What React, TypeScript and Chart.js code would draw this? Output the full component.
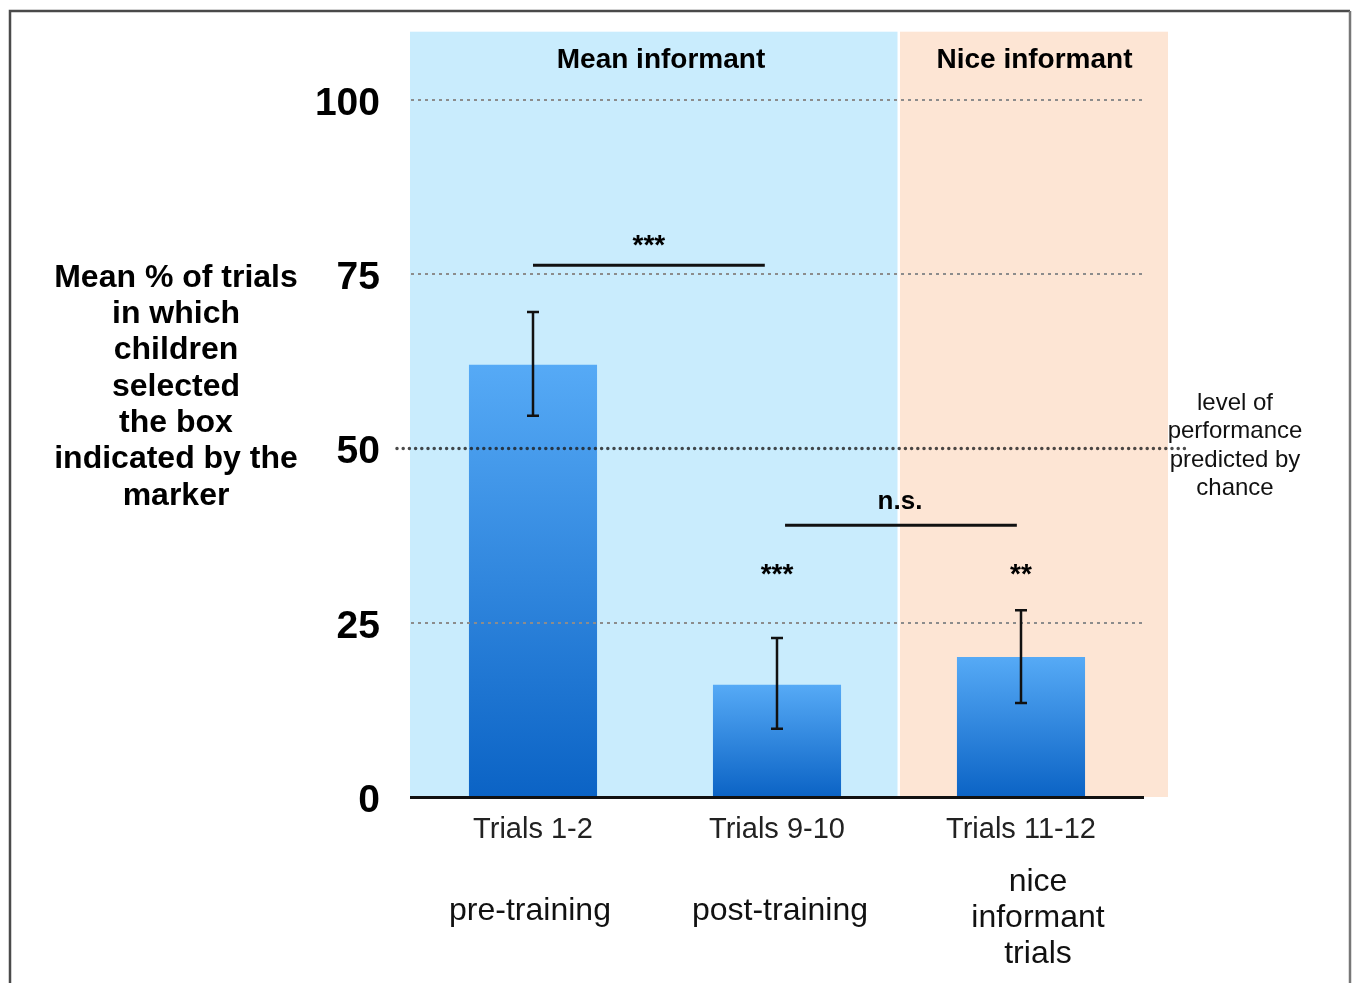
import React, { useEffect, useRef } from "react";
import { Chart, registerables } from "chart.js";

Chart.register(...registerables);

const categories = ["Trials 1-2", "Trials 9-10", "Trials 11-12"];
const phaseLabels = [["pre-training"], ["post-training"], ["nice", "informant", "trials"]];
const meanValues = [62, 16.1, 20.1];
const errHigh = [69.6, 22.8, 26.8];
const errLow = [54.7, 9.8, 13.5];
const yTicks = [0, 25, 50, 75, 100];
const panelLabels = ["Mean informant", "Nice informant"];
const yTitleLines = ["Mean % of trials", "in which", "children", "selected", "the box", "indicated by the", "marker"];
const chanceLines = ["level of", "performance", "predicted by", "chance"];
const chanceLevel = 50;
const sigLabels = ["***", "n.s.", "***", "**"];

const FONT = '"Liberation Sans", Arial, Helvetica, sans-serif';

const decorPlugin = {
  id: "decor",
  beforeDraw(chart: any) {
    const { ctx, chartArea, scales } = chart;
    const x = scales.x;
    const y = scales.y;
    const top = y.getPixelForValue(109.8);
    const bottom = chartArea.bottom;
    const split = (x.getPixelForValue(1) + x.getPixelForValue(2)) / 2;
    ctx.save();
    ctx.fillStyle = "#ffffff";
    ctx.fillRect(0, 0, chart.width, chart.height);
    ctx.fillStyle = "#c9ecfd";
    ctx.fillRect(chartArea.left - 1, top, split - 0.5 - chartArea.left, bottom - top);
    ctx.fillStyle = "#fde5d4";
    ctx.fillRect(split + 1, top, chartArea.right + 25 - split - 1, bottom - top);

    // panel labels
    ctx.fillStyle = "#000";
    ctx.font = "bold 28px " + FONT;
    ctx.textAlign = "center";
    ctx.textBaseline = "middle";
    ctx.fillText(panelLabels[0], (chartArea.left + split) / 2 + 6, top + 29);
    ctx.fillText(panelLabels[1], (split + chartArea.right + 25) / 2 + 1, top + 29);

    // y title
    ctx.font = "bold 32px " + FONT;
    yTitleLines.forEach((t, i) => ctx.fillText(t, 176, 278 + i * 36.3));

    // frame
    ctx.strokeStyle = "#4a4a4a";
    ctx.lineWidth = 2.5;
    ctx.beginPath();
    ctx.moveTo(10, chart.height);
    ctx.lineTo(10, 11);
    ctx.lineTo(1350, 11);
    ctx.stroke();
    ctx.strokeStyle = "#777";
    ctx.beginPath();
    ctx.moveTo(1350, 11);
    ctx.lineTo(1350, chart.height);
    ctx.stroke();
    ctx.restore();
  },
  afterDraw(chart: any) {
    const { ctx, chartArea, scales } = chart;
    const x = scales.x;
    const y = scales.y;
    ctx.save();
    // error bars
    ctx.strokeStyle = "#111";
    ctx.lineWidth = 2.5;
    meanValues.forEach((_, i) => {
      const cx = x.getPixelForValue(i);
      const yh = y.getPixelForValue(errHigh[i]);
      const yl = y.getPixelForValue(errLow[i]);
      ctx.beginPath();
      ctx.moveTo(cx, yh);
      ctx.lineTo(cx, yl);
      ctx.moveTo(cx - 6, yh);
      ctx.lineTo(cx + 6, yh);
      ctx.moveTo(cx - 6, yl);
      ctx.lineTo(cx + 6, yl);
      ctx.stroke();
    });

    // chance line
    const y50 = y.getPixelForValue(chanceLevel);
    ctx.strokeStyle = "rgba(30,30,30,0.8)";
    ctx.lineWidth = 3.5;
    ctx.lineCap = "round";
    ctx.setLineDash([0, 6.2]);
    ctx.beginPath();
    ctx.moveTo(chartArea.left - 14, y50);
    ctx.lineTo(chartArea.right + 47, y50);
    ctx.stroke();
    ctx.setLineDash([]);
    ctx.lineCap = "butt";

    // significance lines
    const step = x.getPixelForValue(1) - x.getPixelForValue(0);
    ctx.strokeStyle = "#111";
    ctx.lineWidth = 3;
    const l1y = y.getPixelForValue(76.3);
    ctx.beginPath();
    ctx.moveTo(x.getPixelForValue(0), l1y);
    ctx.lineTo(x.getPixelForValue(1) - 0.05 * step, l1y);
    ctx.stroke();
    const l2y = y.getPixelForValue(39.0);
    ctx.beginPath();
    ctx.moveTo(x.getPixelForValue(1) + 0.033 * step, l2y);
    ctx.lineTo(x.getPixelForValue(2) - 0.017 * step, l2y);
    ctx.stroke();

    ctx.fillStyle = "#000";
    ctx.textAlign = "center";
    ctx.textBaseline = "middle";
    ctx.font = "bold 28px " + FONT;
    ctx.fillText(sigLabels[0], (x.getPixelForValue(0) + x.getPixelForValue(1) - 0.05 * step) / 2, y.getPixelForValue(79.0));
    ctx.fillText(sigLabels[2], x.getPixelForValue(1), y.getPixelForValue(31.8));
    ctx.fillText(sigLabels[3], x.getPixelForValue(2), y.getPixelForValue(31.8));
    ctx.font = "bold 26px " + FONT;
    ctx.fillText(sigLabels[1], (x.getPixelForValue(1) + x.getPixelForValue(2)) / 2 + 1, y.getPixelForValue(42.3));

    // phase labels
    ctx.font = "32px " + FONT;
    ctx.fillStyle = "#111";
    const offs = [-3, 3, 17];
    const centers = [911, 911, 918];
    phaseLabels.forEach((lines, i) => {
      const cx = x.getPixelForValue(i) + offs[i];
      const n = lines.length;
      lines.forEach((t, j) => {
        ctx.fillText(t, cx, centers[i] + (j - (n - 1) / 2) * 36);
      });
    });

    // chance label
    ctx.font = "24px " + FONT;
    chanceLines.forEach((t, j) => ctx.fillText(t, 1235, 403 + j * 28.5));
    ctx.restore();
  },
};

export default function App() {
  const ref = useRef<HTMLCanvasElement>(null);
  useEffect(() => {
    if (!ref.current) return;
    const chart = new Chart(ref.current, {
      type: "bar",
      data: {
        labels: categories,
        datasets: [
          {
            data: meanValues,
            backgroundColor: (c: any) => {
              const ch = c.chart;
              const ys = ch.scales?.y;
              if (!ys || c.raw === undefined) return "#3a8ee6";
              const t = ys.getPixelForValue(c.raw);
              const b = ys.getPixelForValue(0);
              if (!isFinite(t) || !isFinite(b) || t === b) return "#3a8ee6";
              const g = ch.ctx.createLinearGradient(0, t, 0, b);
              g.addColorStop(0, "#56aaf6");
              g.addColorStop(1, "#0b63c5");
              return g;
            },
            borderWidth: 0,
            barPercentage: 0.525,
            categoryPercentage: 1,
          },
        ],
      },
      options: {
        responsive: false,
        animation: false,
        devicePixelRatio: 1,
        layout: { padding: { top: 100, right: 211, left: 0, bottom: 0 } },
        plugins: { legend: { display: false }, tooltip: { enabled: false } },
        scales: {
          x: {
            grid: { display: false },
            border: { display: true, color: "#111", width: 3 },
            ticks: { color: "#222", font: { family: FONT, size: 29 }, padding: 8 },
            afterFit: (s: any) => {
              s.height = 186;
            },
          },
          y: {
            min: 0,
            max: 100,
            afterBuildTicks: (s: any) => {
              s.ticks = yTicks.map((v) => ({ value: v }));
            },
            grid: {
              z: 1,
              drawTicks: false,
              lineWidth: 2,
              color: (c: any) => (c.tick && (c.tick.value === 0 || c.tick.value === chanceLevel) ? "rgba(0,0,0,0)" : "#8c8c8c"),
            },
            border: { display: false, dash: [3, 4] },
            ticks: { color: "#000", font: { family: FONT, size: 39, weight: "bold" }, padding: 31, labelOffset: 4 },
            afterFit: (s: any) => {
              s.width = 411;
            },
          },
        },
      },
      plugins: [decorPlugin],
    });
    return () => chart.destroy();
  }, []);
  return (
    <div style={{ position: "fixed", left: 0, top: 0, width: 1354, height: 983 }}>
      <canvas ref={ref} width={1354} height={983} style={{ display: "block", width: 1354, height: 983 }} />
    </div>
  );
}
